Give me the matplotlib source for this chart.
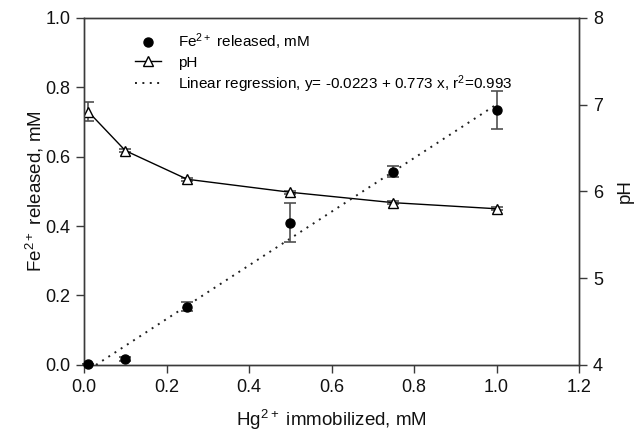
import numpy as np
import matplotlib
matplotlib.use("Agg")
import matplotlib.pyplot as plt

plt.rcParams['font.family'] = ['Liberation Sans', 'DejaVu Sans']
plt.rcParams['mathtext.default'] = 'regular'

# Data
hg = [0.01, 0.1, 0.25, 0.5, 0.75, 1.0]
fe = [0.003, 0.017, 0.168, 0.41, 0.557, 0.735]
fe_err = [0.0, 0.005, 0.013, 0.057, 0.015, 0.054]
ph = [6.92, 6.47, 6.14, 5.99, 5.87, 5.80]
ph_err = [0.11, 0.02, 0.02, 0.02, 0.02, 0.02]
reg_intercept = -0.0223
reg_slope = 0.773
reg_r2 = 0.993

xticks = [0.0, 0.2, 0.4, 0.6, 0.8, 1.0, 1.2]
yticks = [0.0, 0.2, 0.4, 0.6, 0.8, 1.0]
ph_ticks = [4, 5, 6, 7, 8]

spine_col = '#3a3a3a'
err_col = '#505050'

fig = plt.figure(figsize=(6.37, 4.37), dpi=100)
ax = fig.add_axes([0.132, 0.165, 0.777, 0.794])
ax2 = ax.twinx()

# regression line
x0 = -reg_intercept / reg_slope
xf = np.linspace(x0, max(hg), 50)
yf = reg_intercept + reg_slope * xf
reg_line, = ax.plot(xf, yf, linestyle=(0, (1, 2.8)), color='#202020', lw=1.4, zorder=2)

# Fe data
ax.errorbar(hg, fe, yerr=fe_err, fmt='none', ecolor=err_col, elinewidth=1.2,
            capsize=4.5, capthick=1.2, zorder=3, clip_on=False)
fe_pts, = ax.plot(hg, fe, 'o', color='black', markersize=6.5, zorder=4, clip_on=False)

# pH data
ax2.errorbar(hg, ph, yerr=ph_err, fmt='none', ecolor=err_col, elinewidth=1.2,
             capsize=4.5, capthick=1.2, zorder=3)
ph_line, = ax2.plot(hg, ph, '-^', color='black', lw=1.0, markersize=7,
                    markerfacecolor='white', markeredgecolor='black', markeredgewidth=1.0, zorder=4)

ax.set_xlim(0, 1.2)
ax.set_ylim(0, 1.0)
ax2.set_ylim(4, 8)
ax.set_xticks(xticks)
ax.set_xticklabels([f"{v:.1f}" for v in xticks])
ax.set_yticks(yticks)
ax.set_yticklabels([f"{v:.1f}" for v in yticks])
ax2.set_yticks(ph_ticks)
ax2.set_yticklabels([str(v) for v in ph_ticks])

for a in (ax, ax2):
    for s in a.spines.values():
        s.set_color(spine_col)
        s.set_linewidth(1.0)
    a.tick_params(direction='out', length=6, width=1.0, color=spine_col,
                  labelsize=13, pad=4, labelcolor='#111111')

ax.set_xlabel('Hg$^{2+}$ immobilized, mM', fontsize=13.5, labelpad=9, color='#111111')
ax.set_ylabel('Fe$^{2+}$ released, mM', fontsize=13.5, labelpad=-1, color='#111111')
ax2.set_ylabel('pH', fontsize=13.5, labelpad=10, color='#111111')

ax.set_zorder(ax2.get_zorder() + 1)
ax.patch.set_visible(False)

leg = ax.legend([fe_pts, ph_line, reg_line],
                ['Fe$^{2+}$ released, mM', 'pH',
                 f'Linear regression, y= {reg_intercept} + {reg_slope} x, r$^{{2}}$={reg_r2}'],
                loc='upper left', bbox_to_anchor=(0.075, 1.0), frameon=False,
                fontsize=11, handlelength=1.7, handletextpad=1.1, labelspacing=0.22)

fig.savefig('out.png', dpi=100)
